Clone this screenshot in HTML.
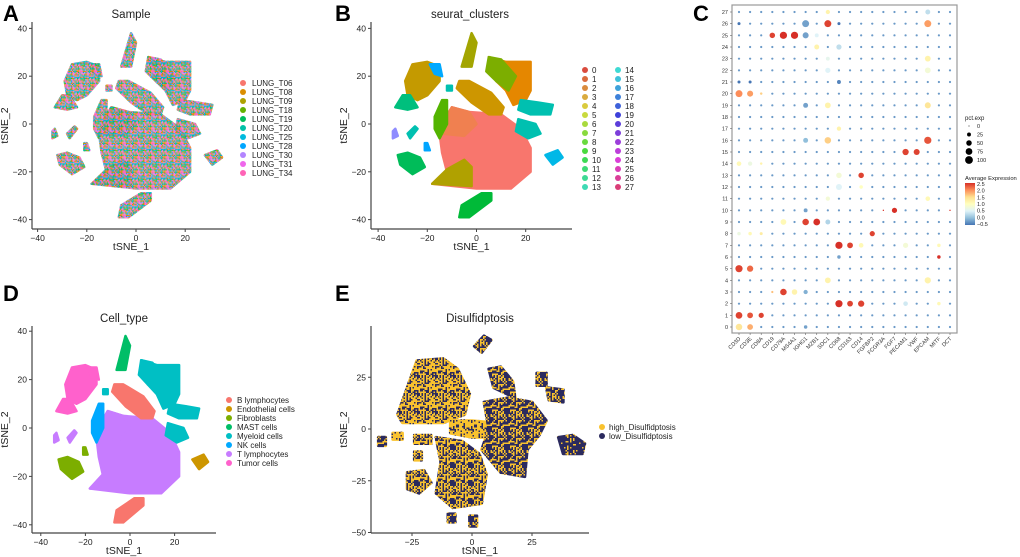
<!DOCTYPE html>
<html><head><meta charset="utf-8"><style>
body{margin:0;background:#fff;}
svg{display:block;font-family:"Liberation Sans",sans-serif;}
</style></head><body>
<svg id="fig" width="1020" height="557" viewBox="0 0 1020 557">
<defs id="defs"></defs>
</svg>
<script>
// ---------- DATA ----------
const sampleNames=["LUNG_T06","LUNG_T08","LUNG_T09","LUNG_T18","LUNG_T19","LUNG_T20","LUNG_T25","LUNG_T28","LUNG_T30","LUNG_T31","LUNG_T34"];
const sampleColors=["#F8766D","#DB8E00","#AEA200","#64B200","#00BD5C","#00C1A7","#00BADE","#00A6FF","#B385FF","#EF67EB","#FF63B6"];
const clusterLabels=["0","1","2","3","4","5","6","7","8","9","10","11","12","13","14","15","16","17","18","19","20","21","22","23","24","25","26","27"];
const cellTypes=["B lymphocytes","Endothelial cells","Fibroblasts","MAST cells","Myeloid cells","NK cells","T lymphocytes","Tumor cells"];
const cellColors=["#F8766D","#CD9600","#7CAE00","#00BE67","#00BFC4","#00A9FF","#C77CFF","#FF61CC"];
const groupNames=["high_Disulfidptosis","low_Disulfidptosis"];
const groupColors=["#F9C22E","#2B2A5E"];
const tsneTicksX=[-40,-20,0,20];
const tsneTicksY=[40,20,0,-20,-40];
const eTicksX=[-25,0,25];
const eTicksY=[25,0,-25,-50];
const regions=[
 {ct:6,cl:"#F8766D",p:[[-15,-4],[-13,2],[-10,7],[-3,5],[10,4],[18,-2],[22,-10],[22,-20],[14,-27],[0,-27],[-18,-25],[-12,-20],[-14,-12]]},
 {ct:6,cl:"#B0A100",p:[[-18,-25],[-12,-19],[-5,-15],[-2,-18],[-2,-26]]},
 {ct:6,cl:"#F08050",p:[[-13,2],[-10,7],[-3,5],[0,0],[-5,-5],[-14,-4]]},
 {ct:0,cl:"#CD9600",p:[[-7,18],[-3,18],[6,13],[11,7],[10,4],[5,4],[-2,9],[-8,15]]},
 {ct:0,cl:"#00BA38",p:[[-7,-39],[-3,-39],[6,-32],[6,-29],[2,-29],[-6,-34]]},
 {ct:3,cl:"#A3A500",p:[[-6,24],[-2,38],[0,34],[-2,24]]},
 {ct:4,cl:"#E58700",p:[[5,28],[12,26],[22,26],[22,14],[20,10],[15,8],[12,14],[8,18]]},
 {ct:4,cl:"#7CAE00",p:[[5,28],[10,27],[16,20],[13,14],[8,18],[4,22]]},
 {ct:4,cl:"#00C0B0",p:[[18,10],[25,9],[31,8],[30,4],[22,4],[17,6]]},
 {ct:4,cl:"#00C0B0",p:[[17,2],[24,0],[26,-4],[21,-6],[16,-3]]},
 {ct:4,cl:"#00C0B0",p:[[-12,16],[-10,16],[-10,14],[-12,14]]},
 {ct:7,cl:"#C49A00",p:[[-28,12],[-29,18],[-26,25],[-20,26],[-15,24],[-15,18],[-20,12],[-24,10]]},
 {ct:7,cl:"#00BF7D",p:[[-33,7],[-30,12],[-27,12],[-24,7],[-28,6]]},
 {ct:5,cl:"#53B400",p:[[-17,3],[-14,10],[-12,10],[-12,0],[-15,-6],[-17,-2]]},
 {ct:2,cl:"#00BC59",p:[[-32,-13],[-28,-12],[-23,-14],[-21,-18],[-26,-21],[-31,-17]]},
 {ct:2,cl:"#00A5FF",p:[[-21,-8],[-20,-8],[-19,-11],[-21,-11]]},
 {ct:1,cl:"#00B8E7",p:[[28,-13],[33,-11],[35,-14],[31,-17]]},
 {ct:6,cl:"#00C0B0",p:[[-28,-4],[-25,-1],[-24,-2],[-27,-6]]},
 {ct:6,cl:"#8F8CFF",p:[[-34,-3],[-33,-2],[-32,-5],[-34,-6]]},
 {ct:7,cl:"#00A9FF",p:[[-19,25],[-15,25],[-14,20],[-17,21]]}
];
const eRegions=[
 {h:0.55,p:[[-31,7],[-27,20],[-23,33],[-12,34],[-6,29],[-1,17],[-3,7],[-12,3],[-20,3],[-29,3]]},
 {h:0.75,p:[[-9,4],[0,4],[9,3],[9,-4],[0,-4],[-9,-2]]},
 {h:0.5,p:[[-15,-4],[-4,-6],[3,-12],[6,-22],[4,-36],[-8,-38],[-15,-31],[-13,-16]]},
 {h:0.45,p:[[-27,-21],[-20,-20],[-17,-26],[-22,-31],[-27,-29]]},
 {h:0.4,p:[[5,13],[15,15],[25,13],[31,4],[28,-3],[23,-10],[22,-23],[12,-21],[4,-10],[7,0]]},
 {h:0.4,p:[[7,29],[12,30],[17,23],[18,15],[9,20]]},
 {h:0.4,p:[[27,27],[31,27],[31,21],[27,21]]},
 {h:0.3,p:[[31,20],[38,19],[38,13],[32,14]]},
 {h:0.1,p:[[36,-4],[42,-3],[47,-7],[46,-12],[38,-12]]},
 {h:0.3,p:[[1,40],[5,45],[8,43],[4,37]]},
 {h:0.3,p:[[-10,-41],[-7,-41],[-7,-45],[-10,-45]]},
 {h:0.3,p:[[-1,-42],[2,-42],[2,-47],[-1,-47]]},
 {h:0.4,p:[[-39,-4],[-36,-4],[-36,-8],[-39,-8]]},
 {h:0.8,p:[[-33,-2],[-29,-2],[-29,-5],[-33,-5]]},
 {h:0.5,p:[[-24,-3],[-17,-3],[-17,-7],[-24,-7]]},
 {h:0.5,p:[[-24,-11],[-21,-11],[-21,-15],[-24,-15]]}
];
const genes=["CD3D","CD3E","CD8A","CD19","CD79A","MS4A1","IGHG1","MZB1","SDC1","CD68","CD163","CD14","FGFBP2","FCGR3A","FGF7","PECAM1","VWF","EPCAM","MITF","DCT"];
const dotClusters=["0","1","2","3","4","5","6","7","8","9","10","11","12","13","14","15","16","17","18","19","20","21","22","23","24","25","26","27"];
const basePct=8, baseExpr=-0.25;
const dotHighlights=[
 [27,8,30,1.2],[27,17,40,0.3],
 [26,0,15,-0.5],[26,6,80,-0.2],[26,8,80,2.4],[26,9,15,-0.5],[26,17,80,1.9],
 [25,3,50,2.4],[25,4,85,2.5],[25,5,85,2.5],[25,6,60,-0.2],[25,7,25,0.5],
 [24,7,40,1.2],[24,9,45,0.3],
 [23,8,25,0.6],[23,17,55,1.2],
 [22,8,45,0.5],[22,17,55,0.8],
 [21,9,25,-0.4],[21,0,15,-0.5],[21,1,15,-0.5],
 [20,0,80,2.0],[20,1,60,1.9],[20,2,10,1.6],
 [19,6,40,-0.2],[19,8,55,1.2],[19,17,60,1.4],
 [17,9,30,1.2],
 [16,6,40,0.0],[16,8,70,1.6],[16,17,85,2.3],
 [15,15,65,2.4],[15,16,60,2.4],
 [14,0,35,1.1],[14,1,30,0.7],[14,2,10,1.2],
 [13,9,50,0.8],[13,11,50,2.4],
 [12,9,60,0.5],[12,11,20,1.0],
 [11,8,30,0.8],[11,17,35,1.1],
 [10,13,3,2.5],[10,14,45,2.5],[10,19,3,2.5],[10,6,25,-0.2],
 [9,4,55,1.1],[9,6,70,2.4],[9,7,75,2.5],[9,8,40,0.2],
 [8,0,20,0.7],[8,1,20,1.1],[8,2,15,1.3],[8,12,45,2.4],
 [7,9,85,2.5],[7,10,55,2.4],[7,11,35,1.1],[7,15,45,0.8],[7,18,20,1.1],
 [6,9,20,-0.2],[6,18,20,2.5],
 [5,0,85,2.4],[5,1,65,2.2],
 [4,8,55,1.2],[4,17,65,1.2],
 [3,3,8,1.7],[3,4,70,2.4],[3,5,50,1.2],[3,6,30,-0.1],
 [2,9,85,2.5],[2,10,55,2.4],[2,11,65,2.4],[2,15,35,0.4],[2,18,20,1.1],
 [1,0,75,2.4],[1,1,55,2.3],[1,2,45,2.4],
 [0,0,70,1.4],[0,1,55,1.8],[0,6,20,-0.2]
];
const pctLegend=[0,25,50,75,100];
const exprLegend=[2.5,2.0,1.5,1.0,0.5,0.0,-0.5];

// ---------- HELPERS ----------
const NS="http://www.w3.org/2000/svg";
const svg=document.getElementById('fig');
const defs=document.getElementById('defs');
function mk(tag,attrs,parent){const e=document.createElementNS(NS,tag);for(const k in attrs)e.setAttribute(k,attrs[k]);(parent||svg).appendChild(e);return e;}
function txt(x,y,s,size,anchor,parent,extra){const t=mk('text',Object.assign({x:x,y:y,'font-size':size,'text-anchor':anchor||'start',fill:'#222'},extra||{}),parent);t.textContent=s;return t;}
function mottled(id,cols,cell){
  cell=cell||1.5;const N=12;
  const p=mk('pattern',{id:id,width:N*cell,height:N*cell,patternUnits:'userSpaceOnUse'},defs);
  for(let i=0;i<N;i++)for(let j=0;j<N;j++){
    const h=((i*131+j*71+i*j*17)^(i*7+j*13))%cols.length;
    mk('rect',{x:j*cell,y:i*cell,width:cell,height:cell,fill:cols[(h+cols.length)%cols.length]},p);
  }
}
mottled('mixA',sampleColors,1.2);
function polyStr(pts,sx,sy){return pts.map(q=>sx(q[0]).toFixed(1)+','+sy(q[1]).toFixed(1)).join(' ');}

function axes(g,ox,x0,x1,oy,y0,y1,sx,sy,tx,ty,title,tcx,tty,letter,lx,ly){
  mk('line',{x1:ox,y1:y0,x2:ox,y2:y1,stroke:'#444','stroke-width':1.2},g);
  mk('line',{x1:x0,y1:oy,x2:x1,y2:oy,stroke:'#444','stroke-width':1.2},g);
  tx.forEach(v=>{mk('line',{x1:sx(v),y1:oy,x2:sx(v),y2:oy+3,stroke:'#444'},g);
    const t=txt(sx(v),oy+12,String(v).replace('-','\u2212'),8.5,'middle',g);
    });
  ty.forEach(v=>{mk('line',{x1:ox-3,y1:sy(v),x2:ox,y2:sy(v),stroke:'#444'},g);
    const t=txt(ox-5,sy(v)+3,String(v).replace('-','\u2212'),8.5,'end',g);
    });
  const xt=txt((x0+x1)/2,oy+21,'tSNE_1',10.5,'middle',g);
  
  const yt=txt(0,0,'tSNE_2',10.5,'middle',g,{transform:`translate(${ox-24},${(y0+y1)/2}) rotate(-90)`});
  
  const tt=txt(tcx,tty,title,11.5,'middle',g);
  
  const L=txt(lx,ly,letter,22,'start',g,{'font-weight':'bold',fill:'#000'});
  
}

// ---------- PANEL A ----------
(function(){
  const g=mk('g',{});
  const sx=x=>136+2.46*x, sy=y=>124-2.39*y;
  regions.forEach(r=>{const p=mk('polygon',{points:polyStr(r.p,sx,sy),fill:'url(#mixA)',stroke:'url(#mixA)','stroke-width':2.5,'stroke-linejoin':'round'},g);
    });
  axes(g,32,32,230,229,22,229,sx,sy,tsneTicksX,tsneTicksY,'Sample',131,18,'A',3,21);
  sampleNames.forEach((n,i)=>{const y=83+9*i;
    const c=mk('circle',{cx:243,cy:y,r:3,fill:sampleColors[i]},g);
    const t=txt(252,y+3,n,8,'start',g);});
})();

// ---------- PANEL B ----------
(function(){
  const g=mk('g',{});
  const sx=x=>476.5+2.46*x, sy=y=>124-2.39*y;
  regions.forEach(r=>{const p=mk('polygon',{points:polyStr(r.p,sx,sy),fill:r.cl,stroke:r.cl,'stroke-width':2.5,'stroke-linejoin':'round'},g);
    });
  axes(g,371,371,572,229,22,229,sx,sy,tsneTicksX,tsneTicksY,'seurat_clusters',470,18,'B',335,21);
  clusterLabels.forEach((n,i)=>{const col=i<14?0:1, row=i%14;const y=70+9*row;const x=col?618:585;
    const hue=(5+i*(345/28))%360;
    const c=mk('circle',{cx:x,cy:y,r:3,fill:`hsl(${hue},68%,55%)`},g);
    const t=txt(x+7,y+3,n,8,'start',g);});
})();

// ---------- PANEL D ----------
(function(){
  const g=mk('g',{});
  const sx=x=>130+2.23*x, sy=y=>428-2.42*y;
  regions.forEach(r=>{const col=cellColors[r.ct];const p=mk('polygon',{points:polyStr(r.p,sx,sy),fill:col,stroke:col,'stroke-width':2.5,'stroke-linejoin':'round'},g);
    });
  axes(g,32,32,216,533,326,533,sx,sy,tsneTicksX,tsneTicksY,'Cell_type',124,322,'D',3,301);
  cellTypes.forEach((n,i)=>{const y=400+9*i;
    const c=mk('circle',{cx:229,cy:y,r:3,fill:cellColors[i]},g);
    const t=txt(237,y+3,n,8,'start',g);});
})();

// ---------- PANEL E ----------
(function(){
  const g=mk('g',{});
  const sx=x=>472+2.4*x, sy=y=>429-2.07*y;
  eRegions.forEach((r,i)=>{
    const id='mixE'+i;const n=Math.round(r.h*10);
    const cols=[];for(let k=0;k<10;k++)cols.push(k<n?groupColors[0]:groupColors[1]);
    mottled(id,cols,1.5);
    const p=mk('polygon',{points:polyStr(r.p,sx,sy),fill:'url(#'+id+')',stroke:'url(#'+id+')','stroke-width':3,'stroke-linejoin':'round'},g);
    });
  axes(g,371,371,589,533,326,533,sx,sy,eTicksX,eTicksY,'Disulfidptosis',480,322,'E',335,301);
  groupNames.forEach((n,i)=>{const y=427+9*i;
    const c=mk('circle',{cx:602,cy:y,r:3,fill:groupColors[i]},g);
    const t=txt(609,y+3,n,8,'start',g);});
})();

// ---------- PANEL C (dot plot) ----------
const stops=[[-0.5,[69,117,180]],[0,[145,191,219]],[0.5,[224,243,248]],[1.0,[255,255,191]],[1.5,[254,224,144]],[2.0,[252,141,89]],[2.5,[215,48,39]]];
function colorOf(v){v=Math.max(-0.5,Math.min(2.5,v));for(let i=0;i<stops.length-1;i++){const a=stops[i],b=stops[i+1];if(v<=b[0]){const t=(v-a[0])/(b[0]-a[0]);const c=a[1].map((x,k)=>Math.round(x+(b[1][k]-x)*t));return `rgb(${c})`;}}return 'rgb(215,48,39)';}
function radius(p){return Math.max(0.7,3.9*Math.sqrt(p/100));}
(function(){
  const g=mk('g',{});
  const x0=732,x1=957,y0=5,y1=333;
  const colX=i=>739+i*(211/19), rowY=r=>327-r*(315/27);
  mk('rect',{x:x0,y:y0,width:x1-x0,height:y1-y0,fill:'#fff',stroke:'#999','stroke-width':1.2},g);
  const L=txt(693,21,'C',22,'start',g,{'font-weight':'bold',fill:'#000'});
  const M={};dotHighlights.forEach(h=>{M[h[0]+'_'+h[1]]=h;});
  dotClusters.forEach((c,r)=>{
    const t=txt(x0-4,rowY(r)+2,c,5.5,'end',g,{fill:'#333'});
    mk('line',{x1:x0-2,y1:rowY(r),x2:x0,y2:rowY(r),stroke:'#666','stroke-width':0.6},g);
    genes.forEach((gn,i)=>{
      const h=M[r+'_'+i];const pct=h?h[2]:basePct, ex=h?h[3]:baseExpr;
      const d=mk('circle',{cx:colX(i),cy:rowY(r),r:radius(pct),fill:colorOf(ex)},g);
      
    });
  });
  genes.forEach((gn,i)=>{
    mk('line',{x1:colX(i),y1:y1,x2:colX(i),y2:y1+2,stroke:'#666','stroke-width':0.6},g);
    const t=txt(0,0,gn,5.5,'end',g,{fill:'#333',transform:`translate(${colX(i)+2},${y1+6}) rotate(-45)`});
    
  });
  const pt=txt(965,120,'pct.exp',6,'start',g);
  pctLegend.forEach((p,i)=>{const y=126+8.5*i;
    const c=mk('circle',{cx:969,cy:y,r:p===0?0.5:radius(p),fill:'#000'},g);
    const t=txt(977,y+2,String(p),5.5,'start',g);});
  const at=txt(965,180,'Average Expression',5.8,'start',g);
  const lg=mk('linearGradient',{id:'cbar',x1:0,y1:0,x2:0,y2:1},defs);
  stops.slice().reverse().forEach((s,i)=>mk('stop',{offset:(i/6),'stop-color':colorOf(s[0])},lg));
  mk('rect',{x:965,y:183,width:10,height:42,fill:'url(#cbar)'},g);
  exprLegend.forEach((v,i)=>{const y=184+i*(40/6);
    const t=txt(977,y+2,v.toFixed(1).replace('-','\u2212'),5.5,'start',g);});
})();
</script>
</body></html>
